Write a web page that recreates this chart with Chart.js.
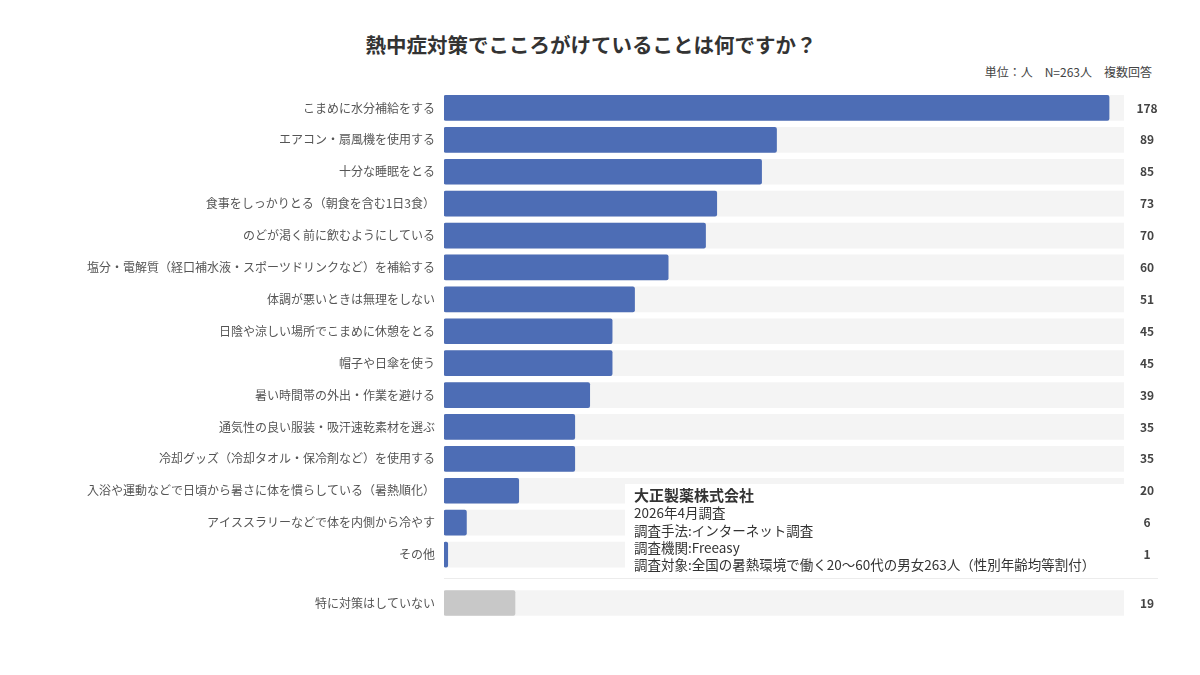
<!DOCTYPE html>
<html lang="ja">
<head>
<meta charset="utf-8">
<script src="https://cdn.jsdelivr.net/npm/chart.js@4"></script>
<style>
  html, body { margin: 0; padding: 0; background: #fff; }
  body { width: 1200px; height: 675px; position: relative; overflow: hidden;
         font-family: "Noto Sans CJK JP", "Noto Sans", sans-serif; }
  .layer { position: absolute; left: 0; top: 0; }
  #title { position: absolute; left: 0; width: 1182px; top: 29px; text-align: center;
           font-size: 20.5px; font-weight: bold; color: #333; }
  #unit { position: absolute; right: 48px; top: 63px; font-size: 12px; color: #444; }
  #sep { position: absolute; left: 444px; width: 714px; top: 578px; height: 1px; background: #ececec; }
  #note { position: absolute; left: 625px; top: 484px; width: 492px; height: 86px;
          background: #fff; padding: 2px 0 0 9px; color: #333; font-size: 13.5px; line-height: 17.3px; }
  #note b { font-size: 15px; }
</style>
</head>
<body>
<div id="title">熱中症対策でこころがけていることは何ですか？</div>
<div id="unit">単位：人　N=263人　複数回答</div>
<canvas id="main" class="layer" width="1200" height="675"></canvas>
<canvas id="none" class="layer" width="1200" height="675"></canvas>
<div id="sep"></div>
<div id="note">
  <b>大正製薬株式会社</b><br>
  2026年4月調査<br>
  調査手法:インターネット調査<br>
  調査機関:Freeasy<br>
  調査対象:全国の暑熱環境で働く20～60代の男女263人（性別年齢均等割付）
</div>
<script>
// 回答項目と人数
const categories = [
  'こまめに水分補給をする',
  'エアコン・扇風機を使用する',
  '十分な睡眠をとる',
  '食事をしっかりとる（朝食を含む1日3食）',
  'のどが渇く前に飲むようにしている',
  '塩分・電解質（経口補水液・スポーツドリンクなど）を補給する',
  '体調が悪いときは無理をしない',
  '日陰や涼しい場所でこまめに休憩をとる',
  '帽子や日傘を使う',
  '暑い時間帯の外出・作業を避ける',
  '通気性の良い服装・吸汗速乾素材を選ぶ',
  '冷却グッズ（冷却タオル・保冷剤など）を使用する',
  '入浴や運動などで日頃から暑さに体を慣らしている（暑熱順化）',
  'アイススラリーなどで体を内側から冷やす',
  'その他'
];
const values = [178, 89, 85, 73, 70, 60, 51, 45, 45, 39, 35, 35, 20, 6, 1];

const noneCategories = ['特に対策はしていない'];
const noneValues = [19];

// 背景トラックの最大値
const trackMax = 182;

const BLUE = '#4d6db5';
const GRAY = '#c8c8c8';
const TRACK = '#f4f4f4';
const FONT = '"Noto Sans CJK JP", "Noto Sans", sans-serif';

// 値ラベルを右側に描く
const valueLabels = {
  id: 'valueLabels',
  afterDatasetsDraw(chart) {
    const ctx = chart.ctx;
    const meta = chart.getDatasetMeta(1);
    const ds = chart.data.datasets[1];
    ctx.save();
    ctx.font = 'bold 12px ' + FONT;
    ctx.fillStyle = '#444';
    ctx.textAlign = 'center';
    ctx.textBaseline = 'middle';
    meta.data.forEach((bar, i) => {
      ctx.fillText(ds.data[i], chart.chartArea.right + 23, bar.y);
    });
    ctx.restore();
  }
};

function makeChart(id, labels, data, color, top, bottom) {
  return new Chart(document.getElementById(id), {
    type: 'bar',
    data: {
      labels: labels,
      datasets: [
        {
          data: labels.map(() => trackMax),
          backgroundColor: TRACK,
          barThickness: 25,
          grouped: false,
          order: 2
        },
        {
          data: data,
          backgroundColor: color,
          barThickness: 25,
          borderRadius: 2,
          borderSkipped: false,
          grouped: false,
          order: 1
        }
      ]
    },
    options: {
      indexAxis: 'y',
      responsive: false,
      animation: false,
      layout: { padding: { top: top, bottom: bottom, left: 0, right: 76 } },
      plugins: { legend: { display: false }, tooltip: { enabled: false } },
      scales: {
        x: { min: 0, max: trackMax, display: false },
        y: {
          grid: { display: false },
          border: { display: false },
          ticks: { color: '#555', font: { family: FONT, size: 12 }, padding: 1 },
          afterFit(scale) { scale.width = 444; }
        }
      }
    },
    plugins: [valueLabels]
  });
}

makeChart('main', categories, values, BLUE, 92, 675 - 570.5);
makeChart('none', noneCategories, noneValues, GRAY, 587, 675 - 619);
</script>
</body>
</html>
